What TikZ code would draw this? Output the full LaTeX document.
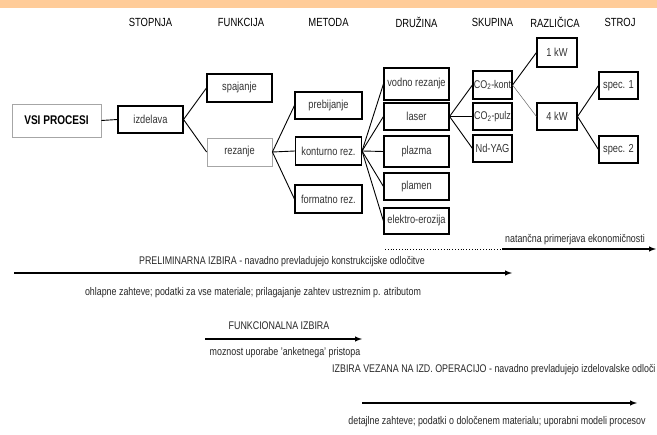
\documentclass[tikz,border=0pt]{standalone}
\usepackage{fontspec}
\setmainfont{Liberation Sans}[FakeStretch=0.8]
\begin{document}
\begin{tikzpicture}[x=1pt,y=-1pt]
		% Styles
		\tikzstyle{boite}=[draw=black,line width=1.1pt,inner sep=0pt,text=black!80,font=\fontsize{11.6}{13}\selectfont]
		\tikzstyle{boitegrise}=[boite,draw=black!35,line width=0.8pt]
		\tikzstyle{petite}=[font=\fontsize{11.2}{12}\selectfont]
		\tikzstyle{lien}=[-,line width=0.9pt]
		\tikzstyle{lienfin}=[-,line width=0.5pt,black!60]
		\tikzstyle{fleche}=[->,>=latex,line width=1.4pt]
		\tikzstyle{entete}=[font=\fontsize{11.8}{13}\selectfont]
		\tikzstyle{commentaire}=[black!85,font=\fontsize{11.1}{12}\selectfont]
		% Colonnes
		\def\ColA{150.5}
		\def\ColB{239.5}
		\def\ColC{328.5}
		\def\ColD{416.5}
		\def\ColE{492.5}
		\def\ColF{557}
		\def\ColG{618.5}
		% Cadre et bandeau
		\useasboundingbox (0,0) rectangle (657,435);
		\fill[fill={rgb,255:red,255;green,204;blue,153}] (0,0) rectangle (657,8);
		% Entetes
		\node[entete] (h1) at (\ColA,22) {STOPNJA};
		\node[entete] (h2) at (241,22) {FUNKCIJA};
		\node[entete] (h3) at (\ColC,22) {METODA};
		\node[entete] (h4) at (\ColD,22) {DRUŽINA};
		\node[entete] (h5) at (\ColE,22) {SKUPINA};
		\node[entete] (h6) at (555,22) {RAZLIČICA};
		\node[entete] (h7) at (620,22) {STROJ};
		% Noeuds
		\node[boitegrise,minimum width=89pt,minimum height=33pt,text=black,font=\fontsize{12.6}{14}\selectfont\bfseries] (R) at (56.5,120.5) {VSI PROCESI};
		\node[boite,minimum width=65pt,minimum height=27pt] (Ra) at (\ColA,119.5) {izdelava};
		\node[boite,minimum width=65pt,minimum height=28pt] (Raa) at (\ColB,88) {spajanje};
		\node[boitegrise,minimum width=65pt,minimum height=28pt] (Rab) at (\ColB,152) {rezanje};
		\node[boite,minimum width=67pt,minimum height=27pt] (Raba) at (\ColC,105.5) {prebijanje};
		\node[boite,minimum width=66pt,minimum height=28pt] (Rabb) at (\ColC,151) {konturno rez.};
		\node[boite,minimum width=67pt,minimum height=28pt] (Rabc) at (\ColC,199) {formatno rez.};
		%
		\node[boite,minimum width=65pt,minimum height=32pt] (Rabba) at (\ColD,84) {vodno rezanje};
		\node[boite,minimum width=65pt,minimum height=27pt] (Rabbb) at (\ColD,116.5) {laser};
		\node[boite,minimum width=65pt,minimum height=31pt] (Rabbc) at (\ColD,151.5) {plazma};
		\node[boite,minimum width=65pt,minimum height=27pt] (Rabbd) at (\ColD,186.5) {plamen};
		\node[boite,minimum width=65pt,minimum height=26pt] (Rabbe) at (\ColD,221) {elektro-erozija};
		%
		\node[boite,petite,minimum width=39pt,minimum height=28pt] (Rabbba) at (\ColE,85) {CO\textsubscript{2}-kont};
		\node[boite,petite,minimum width=39pt,minimum height=27pt] (Rabbbb) at (\ColE,116.5) {CO\textsubscript{2}-pulz};
		\node[boite,minimum width=39pt,minimum height=27pt] (Rabbbc) at (\ColE,148.5) {Nd-YAG};
		%
		\node[boite,minimum width=40pt,minimum height=29pt] (V1) at (\ColF,52.5) {1 kW};
		\node[boite,minimum width=40pt,minimum height=27pt] (V4) at (\ColF,116.5) {4 kW};
		\node[boite,minimum width=39pt,minimum height=27pt] (S1) at (\ColG,85.5) {spec. 1};
		\node[boite,minimum width=39pt,minimum height=27pt] (S2) at (\ColG,149.5) {spec. 2};
		% Arcs
		\draw[lien] (R.east)--(Ra.west);
		\draw[lien] (Ra.east)--(Raa.west);
		\draw[lien] (Ra.east)--(Rab.west);
		\draw[lien] (Rab.east)--(Raba.west);
		\draw[lien] (Rab.east)--(Rabb.west);
		\draw[lien] (Rab.east)--(Rabc.west);
		\foreach \f in {a,b,c,d,e}
			\draw[lien] (Rabb.east)--(Rabb\f.west);
		\foreach \g in {a,b,c}
			\draw[lien] (Rabbb.east)--(Rabbb\g.west);
		\draw[lien] (Rabbba.east)--(V1.west);
		\draw[lienfin] (Rabbba.east)--(V4.west);
		\draw[lien] (V4.east)--(S1.west);
		\draw[lien] (V4.east)--(S2.west);
		% Fleches du bas
		\coordinate (N0) at (385,249);
		\coordinate (N1) at (502,249);
		\coordinate (N2) at (656,249);
		\draw[dotted,line width=0.8pt] (N0)--(N1);
		\draw[fleche] (N1)--(N2);
		\node[commentaire] (natancna) at (575,240) {natančna primerjava ekonomičnosti};
		%
		\coordinate (P0) at (14,273);
		\coordinate (P1) at (512,273);
		\draw[fleche] (P0)--(P1);
		\node[commentaire] (prelim) at (282,262) {PRELIMINARNA IZBIRA - navadno prevladujejo konstrukcijske odločitve};
		\node[commentaire] (ohlapne) at (253,293) {ohlapne zahteve; podatki za vse materiale; prilagajanje zahtev ustreznim p. atributom};
		%
		\coordinate (F0) at (205,339);
		\coordinate (F1) at (362,339);
		\draw[fleche] (F0)--(F1);
		\node[commentaire] (funkc) at (279,326) {FUNKCIONALNA IZBIRA};
		\node[commentaire] (moznost) at (285,353) {moznost uporabe 'anketnega' pristopa};
		%
		\coordinate (I0) at (362,403);
		\coordinate (I1) at (637,403);
		\draw[fleche] (I0)--(I1);
		\node[commentaire,anchor=west,inner sep=0pt] (vezana) at (332,370) {IZBIRA VEZANA NA IZD. OPERACIJO - navadno prevladujejo izdelovalske odloči};
		\node[commentaire] (detajlne) at (497,422) {detajlne zahteve; podatki o določenem materialu; uporabni modeli procesov};
	\end{tikzpicture}
\end{document}
